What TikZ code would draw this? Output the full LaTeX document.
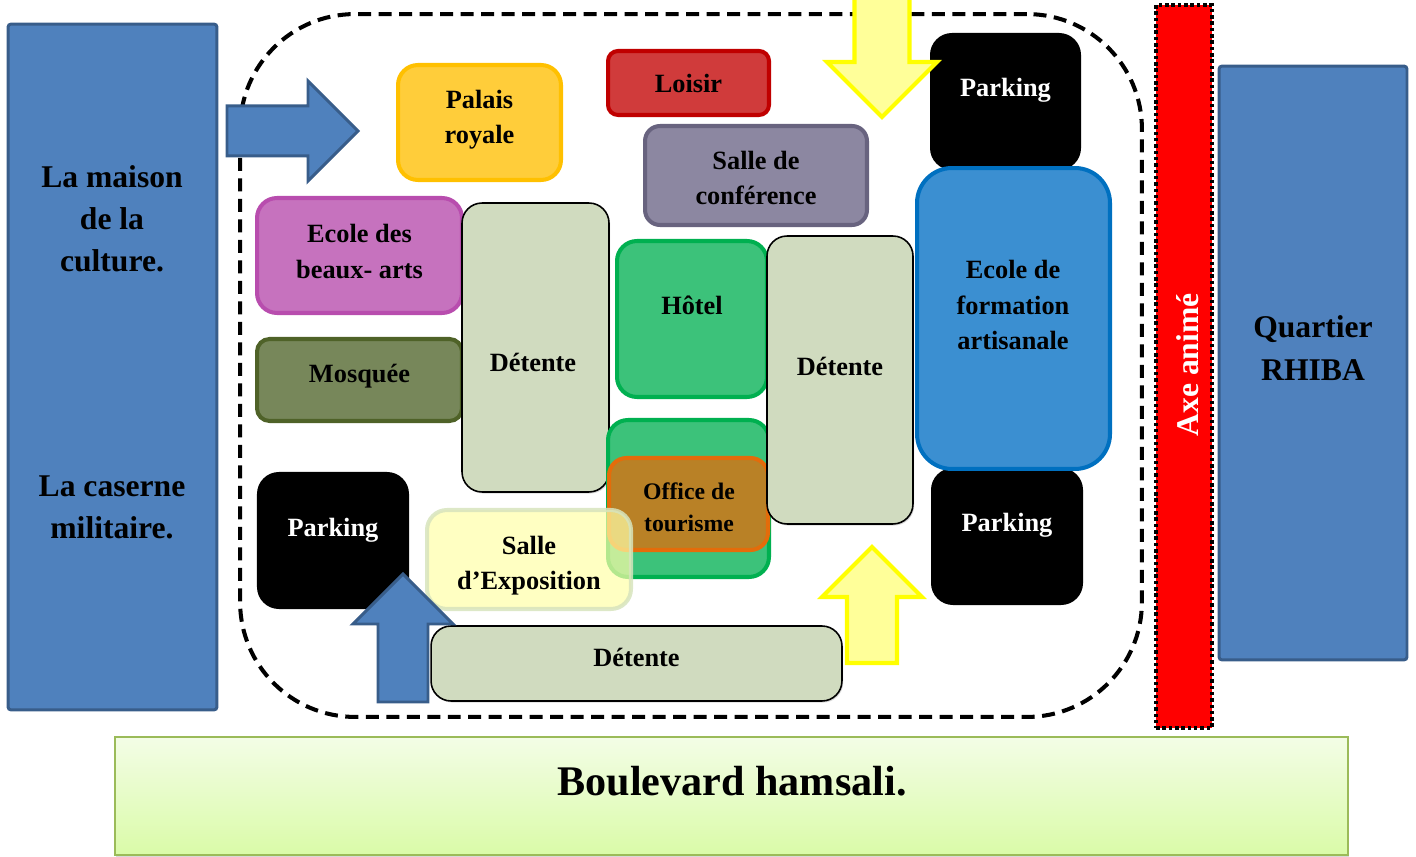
\documentclass[tikz,border=0pt]{standalone}
\usepackage{fontspec}
\setmainfont{Liberation Serif}
\usetikzlibrary{shadows}
\definecolor{PLBlue}{HTML}{4F81BD}
\definecolor{PLBlueEdge}{HTML}{385D8A}
\definecolor{PLRoad}{HTML}{DAFBA8}
\definecolor{PLRoadTop}{HTML}{F3FDE6}
\definecolor{PLRoadEdge}{HTML}{9BBB59}
\definecolor{PLGold}{HTML}{FFCD3A}
\definecolor{PLGoldEdge}{HTML}{FFC000}
\definecolor{PLRed}{HTML}{D03B3B}
\definecolor{PLRedEdge}{HTML}{C00000}
\definecolor{PLSlate}{HTML}{8C87A1}
\definecolor{PLSlateEdge}{HTML}{68637F}
\definecolor{PLPink}{HTML}{C672BE}
\definecolor{PLPinkEdge}{HTML}{B84DAE}
\definecolor{PLOlive}{HTML}{77875A}
\definecolor{PLOliveEdge}{HTML}{4F6228}
\definecolor{PLRest}{HTML}{D0DBBF}
\definecolor{PLGreen}{HTML}{3CC27A}
\definecolor{PLGreenEdge}{HTML}{00B050}
\definecolor{PLSky}{HTML}{3B8FD1}
\definecolor{PLSkyEdge}{HTML}{0070C0}
\definecolor{PLOrange}{HTML}{E46C0A}
\definecolor{PLPale}{HTML}{FFFFA8}
\definecolor{PLPaleEdge}{HTML}{D7E4BD}
\definecolor{PLSun}{HTML}{FFFF99}
\definecolor{PLSunEdge}{HTML}{FFFF00}
\tikzset{
  softshadow/.style={drop shadow={opacity=0.3,shadow xshift=0.7pt,shadow yshift=-0.9pt}},
  lot/.style={line width=2.3pt,rounded corners=4mm,text=black,align=center,
              font=\fontsize{15}{20}\selectfont\bfseries,inner sep=1mm},
  lotgold/.style={lot,draw=PLGoldEdge,fill=PLGold},
  lotred/.style={lot,draw=PLRedEdge,fill=PLRed,rounded corners=2mm},
  lotslate/.style={lot,draw=PLSlateEdge,fill=PLSlate,rounded corners=3mm},
  lotpink/.style={lot,draw=PLPinkEdge,fill=PLPink},
  lotolive/.style={lot,draw=PLOliveEdge,fill=PLOlive,rounded corners=2.5mm},
  lotgreen/.style={lot,draw=PLGreenEdge,fill=PLGreen},
  lotsky/.style={lot,draw=PLSkyEdge,fill=PLSky,rounded corners=7mm},
  lotorange/.style={lot,draw=PLOrange,fill=PLOrange,fill opacity=0.75,rounded corners=3.5mm},
  lotpale/.style={lot,draw=PLPaleEdge,fill=PLPale,fill opacity=0.7,draw opacity=0.85},
  rest/.style={lot,draw=black,line width=0.9pt,fill=PLRest,softshadow},
  parking/.style={lot,draw=black,fill=black,softshadow},
  block/.style={draw=PLBlueEdge,fill=PLBlue,line width=1.7pt,rounded corners=0.6mm},
  road/.style={draw=PLRoadEdge,line width=1.5pt,top color=PLRoadTop,bottom color=PLRoad,
               softshadow},
  axis/.style={draw=black,fill=red,line width=1.8pt,dash pattern=on 2pt off 1.6pt},
  site/.style={draw=black,line width=2.3pt,dash pattern=on 2.6mm off 1.5mm,
               rounded corners=23mm},
  label/.style={text=black,font=\fontsize{15}{20}\selectfont\bfseries,align=center},
  smalllabel/.style={label,font=\fontsize{13.5}{18}\selectfont\bfseries},
  parklabel/.style={label,text=white},
  biglabel/.style={text=black,font=\fontsize{18}{24}\selectfont\bfseries,align=center},
  roadlabel/.style={text=black,font=\fontsize{24}{28}\selectfont\bfseries},
  arrowblue/.style={fill=PLBlue,draw=PLBlueEdge,line width=1.7pt},
  arrowsun/.style={fill=PLSun,draw=PLSunEdge,line width=2.3pt},
}
% block arrow, tip at (#2,#3), pointing at angle #4, shaft length #5
\newcommand{\entryarrow}[6][1]{%
  \begin{scope}[shift={(#2,#3)},rotate=#4,scale=#1]
    \path[#6,line join=miter]
      (0,0) -- (-50,-50) -- (-50,-25) -- ({-50-#5},-25)
      -- ({-50-#5},25) -- (-50,25) -- (-50,50) -- cycle;
  \end{scope}%
}

\begin{document}
\begin{tikzpicture}[x=0.02cm,y=-0.02cm]
    \useasboundingbox (0,0) rectangle (1416,857);

    % surroundings: boulevard, neighbours, animated axis
    \node[road,minimum width=24.66cm,minimum height=2.36cm] (boulevard) at (731.5,796) {};
    \node[roadlabel] at (732,781) {Boulevard hamsali.};
    \node[block,minimum width=4.18cm,minimum height=13.72cm] (west) at (112.5,367) {};
    \node[biglabel] (maison) at (112,219) {La maison\\de la\\culture.};
    \node[biglabel] (caserne) at (112,507) {La caserne\\militaire.};
    \node[block,minimum width=3.76cm,minimum height=11.88cm] (rhiba) at (1313,363) {};
    \node[biglabel] at (1313,348) {Quartier\\RHIBA};
    \node[axis,minimum width=1.12cm,minimum height=14.46cm] (axe) at (1184,366.5) {};
    \node[biglabel,text=white,rotate=90] at (1188,365) {Axe animé};

    % the site limit
    \node[site,minimum width=18.04cm,minimum height=14.06cm] (site) at (691,365.5) {};

    % top row
    \node[lotgold,minimum width=3.26cm,minimum height=2.3cm] (palais) at (479.5,122.5) {};
    \node[label] at (479.5,120) {Palais\\royale};
    \node[lotred,minimum width=3.22cm,minimum height=1.28cm] (loisir) at (688.5,83) {Loisir};
    \node[lotslate,minimum width=4.44cm,minimum height=1.98cm] (conf) at (756,175.5) {};
    \node[label] at (756,178) {Salle de\\conférence};

    % east side: parkings round the training school
    \node[parking,minimum width=2.94cm,minimum height=2.66cm] (parkne) at (1005.5,101.5) {};
    \node[parklabel] at (1005.5,90) {Parking};
    \node[parking,minimum width=2.96cm,minimum height=2.66cm] (parkse) at (1007,536.5) {};
    \node[parklabel] at (1007,525) {Parking};
    \node[lotsky,minimum width=3.86cm,minimum height=6.02cm] (formation) at (1013.5,318.5) {};
    \node[label] at (1013,305) {Ecole de\\formation\\artisanale};

    % west side
    \node[lotpink,minimum width=4.1cm,minimum height=2.3cm] (beauxarts) at (359.5,255.5) {};
    \node[label] at (359.5,251.5) {Ecole des\\beaux- arts};
    \node[lotolive,minimum width=4.1cm,minimum height=1.64cm] (mosquee) at (359.5,380) {};
    \node[label] at (359.5,376) {Mosquée};
    \node[parking,minimum width=2.96cm,minimum height=2.66cm] (parkw) at (333,540.5) {};
    \node[parklabel] at (333,530) {Parking};

    % centre
    \node[rest,minimum width=2.94cm,minimum height=5.78cm] (detw) at (535.5,347.5) {};
    \node[label] at (533,362) {Détente};
    \node[lotgreen,minimum width=3.0cm,minimum height=3.12cm] (hotel) at (692,319) {};
    \node[label] at (692,305) {Hôtel};
    \node[lotgreen,minimum width=3.22cm,minimum height=3.14cm] (officebg) at (688.5,498.5) {};
    \node[lotorange,minimum width=3.18cm,minimum height=1.84cm] (office) at (688.5,504) {};
    \node[smalllabel] at (689,507) {Office de\\tourisme};
    \node[rest,minimum width=2.92cm,minimum height=5.76cm] (dete) at (840,380) {};
    \node[label] at (840,366) {Détente};
    \node[lotpale,minimum width=4.08cm,minimum height=1.98cm] (expo) at (529,559.5) {};
    \node[label] at (529,565.5) {Salle\\d’Exposition};
    \node[rest,minimum width=8.22cm,minimum height=1.5cm] (dets) at (636.5,663.5) {};
    \node[label] at (636.5,657) {Détente};

    % entrances
    \entryarrow{358}{131}{0}{81}{arrowblue}
    \entryarrow{403}{574}{90}{78}{arrowblue}
    \entryarrow{872}{547}{90}{66}{arrowsun}
    \entryarrow[1.1]{882}{117}{-90}{60}{arrowsun}
\end{tikzpicture}
\end{document}
